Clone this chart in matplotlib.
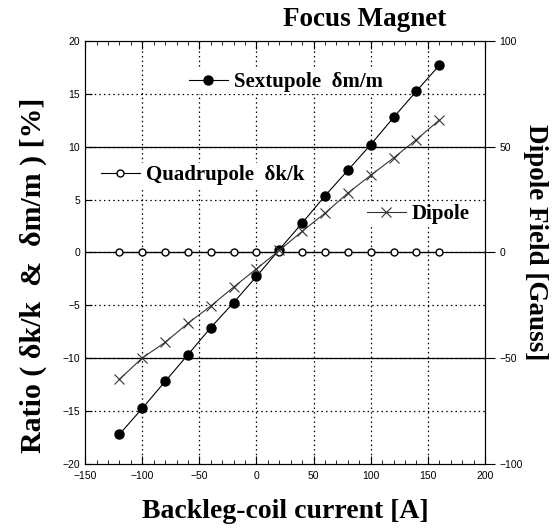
import matplotlib.pyplot as plt
from matplotlib.ticker import MultipleLocator

# backleg-coil current [A]
current = [-120, -100, -80, -60, -40, -20, 0, 20, 40, 60, 80, 100, 120, 140, 160]
# ratios in [%]
sextupole = [-17.2, -14.75, -12.2, -9.67, -7.1, -4.74, -2.27, 0.28, 2.78, 5.36,
             7.77, 10.2, 12.77, 15.26, 17.7]
quadrupole = [0, 0, 0, 0, 0, 0, 0, 0, 0, 0, 0, 0, 0, 0, 0]
# dipole field [Gauss]
dipole = [-60.0, -49.9, -42.5, -33.5, -25.3, -16.4, -7.7, 1.0, 10.0, 18.6,
          28.1, 36.5, 44.7, 53.4, 62.6]

SERIF = 'Liberation Serif'
TICKFONT = 'Liberation Sans'

fig = plt.figure(figsize=(5.6, 5.29), dpi=100)
ax = fig.add_axes([0.152, 0.123, 0.714, 0.7995])
ax2 = ax.twinx()

ax.set_xlim(-150, 200)
ax.set_ylim(-20, 20)
ax2.set_ylim(-100, 100)

# grids
for gx in range(-100, 200, 50):
    ax.axvline(gx, color='black', lw=0.9, ls=(0, (1.2, 2.5)), zorder=0)
for gy in range(-15, 20, 5):
    ax.axhline(gy, color='black', lw=0.9, ls=(0, (1.2, 2.5)), zorder=0)
for gy in (-50, 0, 50):
    ax2.axhline(gy, color='black', lw=0.9, zorder=0)

ax2.set_zorder(ax.get_zorder() - 1)
ax.patch.set_visible(False)

l_sx, = ax.plot(current, sextupole, color='black', lw=0.8, marker='o', ms=6.5,
                mfc='black', label='Sextupole  δm/m')
l_q, = ax.plot(current, quadrupole, color='black', lw=0.8, marker='o', ms=5,
               mfc='white', label='Quadrupole  δk/k')
ax3 = ax.twinx()
ax3.set_ylim(-100, 100)
ax3.axis('off')
l_d, = ax3.plot(current, dipole, color='#333333', lw=0.8, marker='x', ms=6.5,
                mew=0.8, label='Dipole')

lfont = {'family': SERIF, 'weight': 'bold', 'size': 15}
legs = [
    (l_sx, (0.255, 0.903)),
    (l_q, (0.035, 0.683)),
    (l_d, (0.70, 0.591)),
]
for line, pos in legs:
    lg = ax3.legend([line], [line.get_label()], loc='center left',
                    bbox_to_anchor=pos, prop=lfont, frameon=True,
                    facecolor='white', edgecolor='none', framealpha=1,
                    fancybox=False, handlelength=1.85, handletextpad=0.3,
                    borderpad=0.1, borderaxespad=0)
    ax3.add_artist(lg)

# ticks
ax.xaxis.set_major_locator(MultipleLocator(50))
ax.xaxis.set_minor_locator(MultipleLocator(10))
ax.yaxis.set_major_locator(MultipleLocator(5))
ax2.yaxis.set_major_locator(MultipleLocator(50))
ax.tick_params(axis='x', which='both', direction='in', top=True)
ax.tick_params(axis='x', which='major', length=6)
ax.tick_params(axis='x', which='minor', length=3)
ax.tick_params(axis='y', direction='in', length=5)
ax2.tick_params(axis='y', direction='out', length=7)
for a in (ax, ax2):
    for lab in a.get_xticklabels() + a.get_yticklabels():
        lab.set_fontfamily(TICKFONT)
        lab.set_fontsize(7.5)
ax.tick_params(axis='x', pad=5)

ax.set_title('Focus Magnet', fontfamily=SERIF, fontweight='bold', fontsize=19.5,
             pad=11, x=0.70)
ax.set_xlabel('Backleg-coil current [A]', fontfamily=SERIF, fontweight='bold',
              fontsize=20, labelpad=13)
ax.set_ylabel('Ratio ( δk/k  &  δm/m ) [%]', fontfamily=SERIF, fontweight='bold',
              fontsize=21.5, labelpad=11, y=0.447)
ax2.set_ylabel('Dipole Field [Gauss]', fontfamily=SERIF, fontweight='bold',
               fontsize=19.5, rotation=270, labelpad=18, y=0.525)

fig.savefig('out.png', dpi=100)
